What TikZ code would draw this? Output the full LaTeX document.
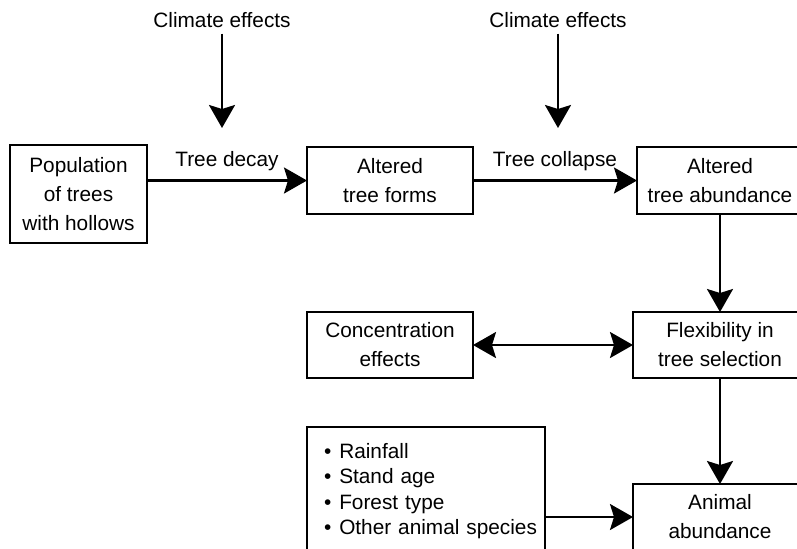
\documentclass[tikz,border=0pt]{standalone}
\usepackage{fontspec}
\setmainfont{Liberation Sans}
\usetikzlibrary{arrows.meta}
\usetikzlibrary{positioning}
\tikzstyle{boxnode}=[draw=black, rectangle, line width=1.2pt, outer sep=0pt,
					minimum width=83pt, minimum height=33.5pt, inner sep=2pt,
					align=center, font=\fontsize{10.4}{14.5}\selectfont]

\begin{document}
\begin{tikzpicture}[x=1pt, y=1pt,
>={Stealth[length=11.5pt, width=13pt, inset=2pt]},
labelnode/.style={font=\fontsize{10.4}{12.5}\selectfont, inner sep=0pt},
arrowline/.style={line width=1.2pt},
]
\useasboundingbox (0,0) rectangle (398.5,-274);
\clip (0,0) rectangle (398.5,-274);

%Nodes
\node[boxnode, minimum width=68.5pt, minimum height=49pt] (pop_node) at (39.25,-97) {Population\\of trees\\with hollows};
\node[boxnode]        (forms_node) at (195,-90.25) {Altered\\tree forms};
\node[boxnode]        (abund_node)       [right=82pt of forms_node] {Altered\\tree abundance};
\node[boxnode, minimum width=87pt, minimum height=33pt] (flex_node) [below=49pt of abund_node] {Flexibility in\\tree selection};
\node[boxnode, minimum height=33pt] (conc_node) [left=80pt of flex_node] {Concentration\\effects};
\node[boxnode, minimum width=87pt, minimum height=33pt] (animal_node) [below=53pt of flex_node] {Animal\\abundance};
\node[draw=black, line width=1.2pt, outer sep=0pt, anchor=north west, text width=119pt,
      inner xsep=0pt, minimum height=64pt, align=left,
      font=\fontsize{10.4}{12.7}\selectfont] (factors_node) at (153.5,-213.5)
      {\hspace*{8.5pt}\textbullet\hspace{4pt}Rainfall\\
       \hspace*{8.5pt}\textbullet\hspace{4pt}Stand age\\
       \hspace*{8.5pt}\textbullet\hspace{4pt}Forest type\\
       \hspace*{8.5pt}\textbullet\hspace{4pt}Other animal species};

\node[labelnode, inner ysep=3pt, anchor=base] (climate1_node) at (111,-13.5) {Climate effects};
\node[labelnode, inner ysep=3pt, anchor=base] (climate2_node) at (279,-13.5) {Climate effects};
\coordinate (decay_tip) at (111,-64);
\coordinate (collapse_tip) at (279,-64);

%Lines
\draw[arrowline, ->] (pop_node.east |- forms_node) -- node[labelnode, above=4pt] {Tree decay} (forms_node.west);
\draw[arrowline, ->] (forms_node.east) -- node[labelnode, above=4pt] {Tree collapse} (abund_node.west);
\draw[arrowline, ->] (climate1_node.south) -- (decay_tip);
\draw[arrowline, ->] (climate2_node.south) -- (collapse_tip);
\draw[arrowline, ->] (abund_node.south) -- (flex_node.north);
\draw[arrowline, <->] (conc_node.east) -- (flex_node.west);
\draw[arrowline, ->] (flex_node.south) -- (animal_node.north);
\draw[arrowline, ->] (factors_node.east |- animal_node) -- (animal_node.west);

\end{tikzpicture}
\end{document}
